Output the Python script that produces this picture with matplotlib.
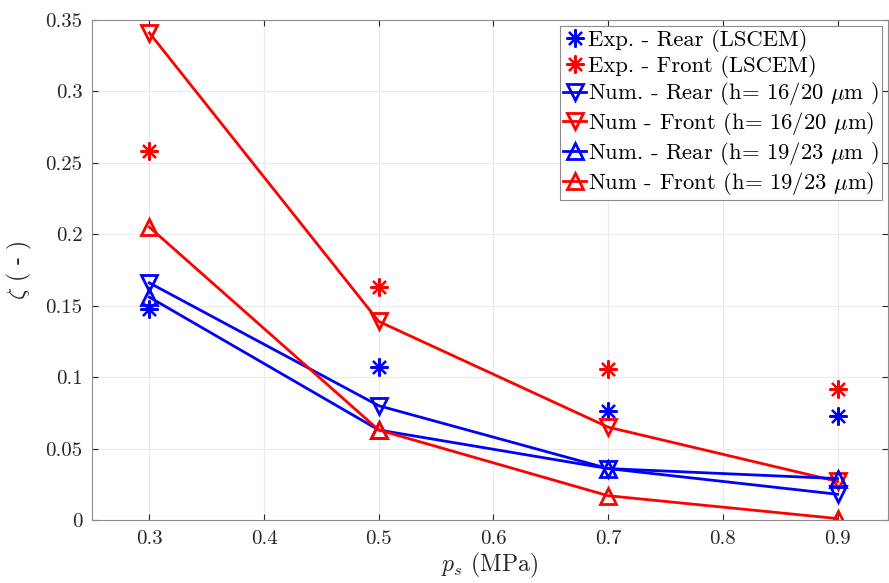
import matplotlib
matplotlib.use("Agg")
import matplotlib.pyplot as plt

plt.rcParams['font.family'] = ['cmr10', 'DejaVu Serif']
plt.rcParams['mathtext.fontset'] = 'cm'
plt.rcParams['axes.formatter.use_mathtext'] = True

ps = [0.3, 0.5, 0.7, 0.9]
exp_rear = [0.148, 0.107, 0.076, 0.073]
exp_front = [0.258, 0.163, 0.106, 0.092]
num_rear_16 = [0.166, 0.080, 0.036, 0.018]
num_front_16 = [0.341, 0.139, 0.065, 0.027]
num_rear_19 = [0.156, 0.063, 0.036, 0.029]
num_front_19 = [0.205, 0.063, 0.017, 0.001]

xticks = [0.3, 0.4, 0.5, 0.6, 0.7, 0.8, 0.9]
yticks = [0, 0.05, 0.1, 0.15, 0.2, 0.25, 0.3, 0.35]
xtick_labels = ['0.3', '0.4', '0.5', '0.6', '0.7', '0.8', '0.9']
ytick_labels = ['0', '0.05', '0.1', '0.15', '0.2', '0.25', '0.3', '0.35']

fig = plt.figure(figsize=(8.89, 5.83), dpi=100)
ax = fig.add_axes([92/889, 63/583, (888-92)/889, (520-20)/583])

B = (0, 0, 1)
R = (1, 0, 0)
star = (8, 2, 0)
ax.plot(ps, exp_rear, linestyle='none', marker=star, ms=13, mew=1.6, color=B,
        label='Exp. - Rear (LSCEM)')
ax.plot(ps, exp_front, linestyle='none', marker=star, ms=13, mew=1.6, color=R,
        label='Exp. - Front (LSCEM)')
ax.plot(ps, num_rear_16, '-', marker='v', ms=12, mew=2, mfc='none', lw=2, color=B,
        label=r'Num. - Rear (h= 16/20 $\mu$m )')
ax.plot(ps, num_front_16, '-', marker='v', ms=12, mew=2, mfc='none', lw=2, color=R,
        label=r'Num - Front (h= 16/20 $\mu$m)')
ax.plot(ps, num_rear_19, '-', marker='^', ms=12, mew=2, mfc='none', lw=2, color=B,
        label=r'Num. - Rear (h= 19/23 $\mu$m )')
ax.plot(ps, num_front_19, '-', marker='^', ms=12, mew=2, mfc='none', lw=2, color=R,
        label=r'Num - Front (h= 19/23 $\mu$m)')

ax.set_xlim(0.25, 0.944)
ax.set_ylim(0, 0.35)
ax.set_xticks(xticks)
ax.set_xticklabels(xtick_labels)
ax.set_yticks(yticks)
ax.set_yticklabels(ytick_labels)
ax.tick_params(direction='in', length=4, labelsize=15, colors='#262626', top=True, right=True, pad=7)
ax.grid(True, color='#ebebeb', lw=0.8)
ax.set_axisbelow(True)
for s in ax.spines.values():
    s.set_color('#8c8c8c')
    s.set_linewidth(0.8)

ax.set_xlabel(r'$p_s$ (MPa)', fontsize=17, color='#262626', labelpad=2)
ax.set_ylabel(r'$\zeta$ ( - )', fontsize=17, color='#262626', labelpad=8)

leg = ax.legend(loc='upper right', fontsize=16.3, handlelength=1.0, handletextpad=0.1,
                borderpad=0.15, labelspacing=0.12, borderaxespad=0.25, fancybox=False,
                framealpha=1, edgecolor='#8c8c8c')
leg.get_frame().set_linewidth(0.8)

fig.savefig('out.png', dpi=100)
